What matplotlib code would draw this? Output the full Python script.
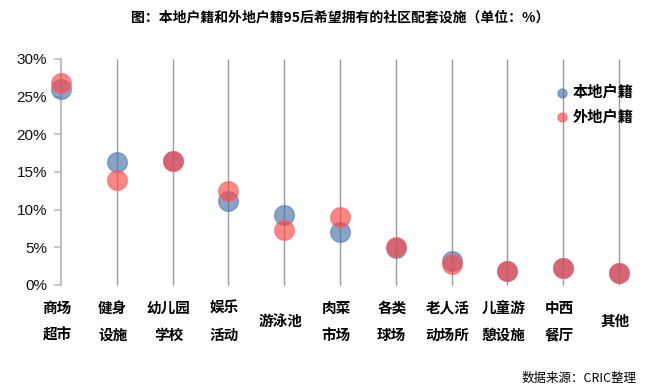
import matplotlib
matplotlib.use("Agg")
import matplotlib.pyplot as plt
from matplotlib.ticker import FuncFormatter
from matplotlib.transforms import ScaledTranslation

plt.rcParams['font.family'] = ['Noto Sans CJK SC', 'DejaVu Sans']

categories = ["商场\n超市", "健身\n设施", "幼儿园\n学校", "娱乐\n活动", "游泳池", "肉菜\n市场",
              "各类\n球场", "老人活\n动场所", "儿童游\n憩设施", "中西\n餐厅", "其他"]
local_vals = [26.0, 16.3, 16.4, 11.1, 9.3, 7.1, 4.9, 3.2, 1.9, 2.3, 1.6]
nonlocal_vals = [26.8, 14.0, 16.4, 12.5, 7.3, 9.0, 5.05, 2.8, 1.9, 2.3, 1.6]
series_names = ["本地户籍", "外地户籍"]
yticks = [0, 5, 10, 15, 20, 25, 30]

W, H = 651, 390
n = len(categories)
xmax = (n - 1) * 1.01
fig = plt.figure(figsize=(W/100, H/100), dpi=100)
ax = fig.add_axes([61/W, 1-285/H, 558*1.01/W, (285-59)/H])

x = list(range(n))
ax.vlines(x[1:], 0, 30, colors='#9a9a9a', lw=1.0, zorder=1, clip_on=False)

ax.scatter(x, local_vals, s=200, color='#4A72A8', alpha=0.65, edgecolors='#4F81BD',
           linewidths=1.0, zorder=3, label=series_names[0], clip_on=False)
ax.scatter(x, nonlocal_vals, s=200, color='#FF4545', alpha=0.65, edgecolors='#FF6060',
           linewidths=1.0, zorder=4, label=series_names[1], clip_on=False)

ax.set_xlim(0, xmax)
ax.set_ylim(0, 30)
ax.set_yticks(yticks)
ax.yaxis.set_major_formatter(FuncFormatter(lambda v, p: f"{int(v)}%"))
ax.tick_params(axis='y', length=5, width=1.2, color='#bfbfbf', labelsize=10.5,
               labelcolor='#111111', pad=5)
for lbl in ax.get_yticklabels():
    lbl.set_family(['Liberation Sans', 'DejaVu Sans'])
    lbl.set_fontsize(11)
ax.set_xticks(x)
ax.set_xticklabels(categories, fontsize=10.5, fontweight='bold', linespacing=1.85,
                   va='center')
ax.tick_params(axis='x', length=0, pad=26)
shift = ScaledTranslation(-4/100, 0, fig.dpi_scale_trans)
for lbl in ax.get_xticklabels():
    lbl.set_transform(lbl.get_transform() + shift)

for sp in ['top', 'right', 'bottom']:
    ax.spines[sp].set_visible(False)
ax.spines['left'].set_color('#bfbfbf')
ax.spines['left'].set_linewidth(1.5)

leg = ax.legend(loc='upper left', bbox_to_anchor=(554/W, 1-84/H),
                bbox_transform=fig.transFigure, frameon=False,
                prop={'size': 11, 'weight': 'bold'}, handletextpad=0.2,
                handlelength=1.0, markerscale=0.46, labelspacing=0.55,
                borderaxespad=0, borderpad=0)

fig.text(340/W, 1-17/H, "图：本地户籍和外地户籍95后希望拥有的社区配套设施（单位：%）",
         ha='center', va='center', fontsize=10, fontweight='bold')
fig.text(637/W, 1-378/H, "数据来源：CRIC整理", ha='right', va='center', fontsize=9)

fig.savefig("out.png", dpi=100)
